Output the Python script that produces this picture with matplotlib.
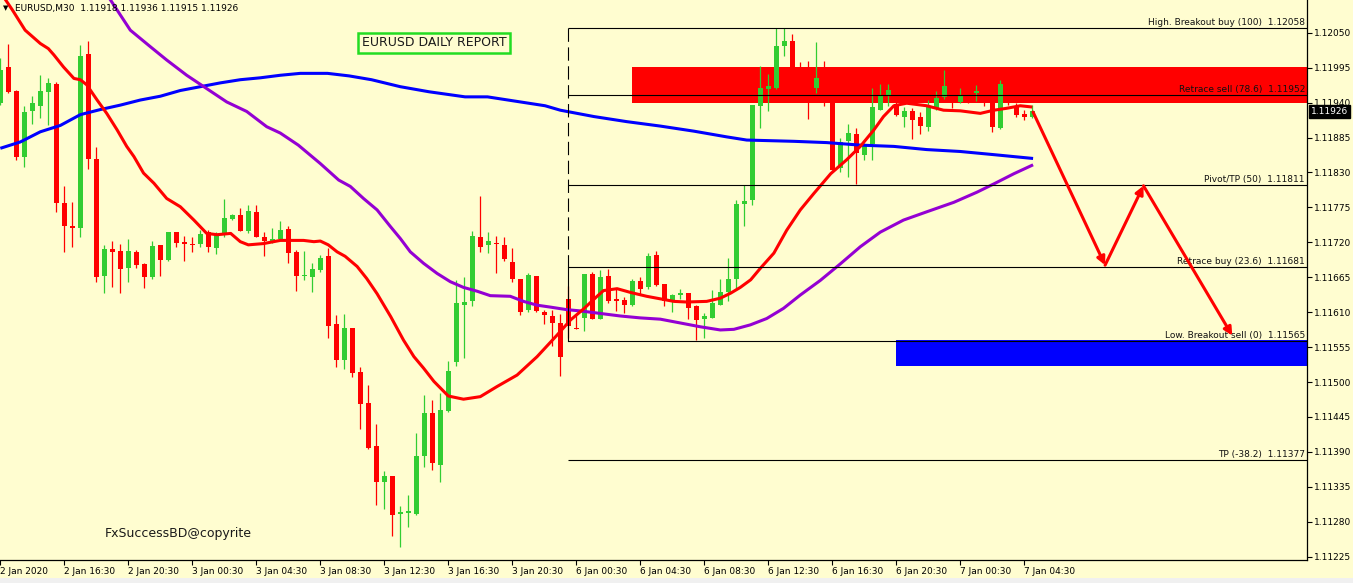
import numpy as np
import matplotlib
matplotlib.use("Agg")
import matplotlib.pyplot as plt
from matplotlib.patches import Rectangle
from matplotlib.transforms import blended_transform_factory

# EURUSD M30 candles (open, high, low, close), 2 Jan 12:30 .. 7 Jan 05:00
opens = [1.11940, 1.11996, 1.11958, 1.11855, 1.11926, 1.11935, 1.11956, 1.11969, 1.11782, 1.11745,
         1.11743, 1.12017, 1.11851, 1.11667, 1.11710, 1.11706, 1.11679, 1.11705, 1.11686, 1.11666,
         1.11716, 1.11692, 1.11736, 1.11721, 1.11717, 1.11717, 1.11736, 1.11711, 1.11733, 1.11757,
         1.11763, 1.11738, 1.11767, 1.11729, 1.11721, 1.11725, 1.11741, 1.11705, 1.11667, 1.11665,
         1.11676, 1.11698, 1.11591, 1.11535, 1.11585, 1.11516, 1.11467, 1.11399, 1.11342, 1.11352,
         1.11293, 1.11294, 1.11293, 1.11383, 1.11452, 1.11370, 1.11454, 1.11532, 1.11622, 1.11627,
         1.11728, 1.11715, 1.11719, 1.11716, 1.11689, 1.11663, 1.11613, 1.11667, 1.11610, 1.11604,
         1.11593, 1.11631, 1.11585, 1.11601, 1.11670, 1.11600, 1.11667, 1.11630, 1.11629, 1.11621,
         1.11659, 1.11649, 1.11700, 1.11654, 1.11627, 1.11637, 1.11640, 1.11619, 1.11599, 1.11601,
         1.11622, 1.11641, 1.11662, 1.11780, 1.11787, 1.11934, 1.11961, 1.11963, 1.12029, 1.12037,
         1.11988, 1.11976, 1.11963, 1.11976, 1.11949, 1.11837, 1.11880, 1.11891, 1.11857, 1.11875,
         1.11929, 1.11952, 1.11938, 1.11918, 1.11926, 1.11918, 1.11902, 1.11932, 1.11948, 1.11960,
         1.11941, 1.11952, 1.11955, 1.11957, 1.11939, 1.11900, 1.11960, 1.11935, 1.11922, 1.11918]
highs = [1.12010, 1.12032, 1.11960, 1.11934, 1.11950, 1.11983, 1.11978, 1.11972, 1.11809, 1.11784,
         1.12031, 1.12037, 1.11870, 1.11716, 1.11722, 1.11718, 1.11725, 1.11708, 1.11688, 1.11722,
         1.11716, 1.11736, 1.11736, 1.11730, 1.11729, 1.11739, 1.11739, 1.11737, 1.11788, 1.11765,
         1.11774, 1.11778, 1.11779, 1.11737, 1.11742, 1.11754, 1.11746, 1.11708, 1.11707, 1.11688,
         1.11700, 1.11711, 1.11606, 1.11607, 1.11585, 1.11523, 1.11495, 1.11434, 1.11360, 1.11352,
         1.11305, 1.11322, 1.11420, 1.11480, 1.11472, 1.11482, 1.11533, 1.11661, 1.11666, 1.11738,
         1.11793, 1.11736, 1.11730, 1.11728, 1.11711, 1.11663, 1.11671, 1.11667, 1.11613, 1.11613,
         1.11607, 1.11651, 1.11606, 1.11670, 1.11673, 1.11676, 1.11678, 1.11648, 1.11634, 1.11662,
         1.11665, 1.11703, 1.11706, 1.11654, 1.11638, 1.11646, 1.11640, 1.11621, 1.11609, 1.11645,
         1.11662, 1.11695, 1.11787, 1.11810, 1.11936, 1.11998, 1.11985, 1.12058, 1.12057, 1.12048,
         1.12004, 1.12006, 1.12035, 1.12006, 1.11960, 1.11885, 1.11906, 1.11900, 1.11876, 1.11963,
         1.11969, 1.11969, 1.11952, 1.11933, 1.11932, 1.11925, 1.11944, 1.11958, 1.11991, 1.11968,
         1.11963, 1.11960, 1.11968, 1.11963, 1.11944, 1.11976, 1.11968, 1.11939, 1.11928, 1.11936]
lows = [1.11936, 1.11955, 1.11849, 1.11838, 1.11907, 1.11916, 1.11904, 1.11767, 1.11705, 1.11712,
        1.11729, 1.11835, 1.11658, 1.11640, 1.11650, 1.11640, 1.11658, 1.11680, 1.11648, 1.11662,
        1.11667, 1.11690, 1.11712, 1.11690, 1.11704, 1.11713, 1.11705, 1.11701, 1.11729, 1.11755,
        1.11738, 1.11734, 1.11729, 1.11699, 1.11719, 1.11724, 1.11688, 1.11644, 1.11661, 1.11642,
        1.11673, 1.11569, 1.11524, 1.11521, 1.11508, 1.11426, 1.11395, 1.11306, 1.11300, 1.11258,
        1.11241, 1.11272, 1.11290, 1.11367, 1.11362, 1.11343, 1.11453, 1.11525, 1.11538, 1.11619,
        1.11705, 1.11703, 1.11672, 1.11690, 1.11658, 1.11605, 1.11611, 1.11610, 1.11591, 1.11557,
        1.11510, 1.11570, 1.11583, 1.11581, 1.11599, 1.11600, 1.11624, 1.11612, 1.11608, 1.11620,
        1.11639, 1.11646, 1.11651, 1.11620, 1.11611, 1.11630, 1.11599, 1.11566, 1.11569, 1.11601,
        1.11621, 1.11628, 1.11645, 1.11746, 1.11779, 1.11900, 1.11927, 1.11961, 1.12014, 1.11983,
        1.11968, 1.11914, 1.11955, 1.11934, 1.11834, 1.11830, 1.11823, 1.11812, 1.11849, 1.11850,
        1.11929, 1.11934, 1.11919, 1.11902, 1.11882, 1.11891, 1.11896, 1.11928, 1.11945, 1.11931,
        1.11939, 1.11939, 1.11943, 1.11935, 1.11894, 1.11898, 1.11936, 1.11917, 1.11913, 1.11915]
closes = [1.11991, 1.11957, 1.11855, 1.11925, 1.11939, 1.11958, 1.11971, 1.11782, 1.11745, 1.11743,
          1.12013, 1.11851, 1.11666, 1.11710, 1.11704, 1.11678, 1.11706, 1.11685, 1.11666, 1.11714,
          1.11692, 1.11736, 1.11719, 1.11717, 1.11715, 1.11733, 1.11712, 1.11733, 1.11759, 1.11763,
          1.11738, 1.11769, 1.11729, 1.11722, 1.11725, 1.11739, 1.11703, 1.11667, 1.11668, 1.11678,
          1.11696, 1.11588, 1.11534, 1.11585, 1.11515, 1.11466, 1.11396, 1.11343, 1.11352, 1.11290,
          1.11295, 1.11297, 1.11383, 1.11452, 1.11373, 1.11456, 1.11517, 1.11625, 1.11626, 1.11730,
          1.11713, 1.11722, 1.11717, 1.11694, 1.11662, 1.11610, 1.11669, 1.11612, 1.11606, 1.11593,
          1.11540, 1.11588, 1.11584, 1.11670, 1.11599, 1.11665, 1.11628, 1.11628, 1.11621, 1.11659,
          1.11647, 1.11698, 1.11653, 1.11627, 1.11637, 1.11640, 1.11617, 1.11598, 1.11604, 1.11624,
          1.11642, 1.11662, 1.11780, 1.11785, 1.11936, 1.11963, 1.11966, 1.12029, 1.12037, 1.11988,
          1.11976, 1.11952, 1.11978, 1.11950, 1.11834, 1.11878, 1.11892, 1.11860, 1.11872, 1.11933,
          1.11952, 1.11960, 1.11920, 1.11926, 1.11913, 1.11903, 1.11933, 1.11947, 1.11966, 1.11944,
          1.11952, 1.11944, 1.11959, 1.11944, 1.11902, 1.11969, 1.11944, 1.11920, 1.11918, 1.11926]

time_labels = ["2 Jan 2020", "2 Jan 16:30", "2 Jan 20:30", "3 Jan 00:30", "3 Jan 04:30",
               "3 Jan 08:30", "3 Jan 12:30", "3 Jan 16:30", "3 Jan 20:30", "6 Jan 00:30",
               "6 Jan 04:30", "6 Jan 08:30", "6 Jan 12:30", "6 Jan 16:30", "6 Jan 20:30",
               "7 Jan 00:30", "7 Jan 04:30"]

# moving averages: (bar, price)
fast_ma = [(0.0, 1.12114), (1.5, 1.12086), (3.1, 1.12054), (5.0, 1.12033), (6.0, 1.12025),
           (6.7, 1.12015), (7.9, 1.11996), (9.2, 1.11978), (10.0, 1.11976), (10.8, 1.11968),
           (12.1, 1.11944), (13.3, 1.11923), (14.6, 1.11897), (15.8, 1.11871), (16.7, 1.11855),
           (17.9, 1.11829), (19.2, 1.11813), (20.8, 1.11789), (22.5, 1.11776), (24.2, 1.11755),
           (25.8, 1.11734), (27.1, 1.11732), (28.8, 1.11734), (30.0, 1.11721), (31.0, 1.11716),
           (32.9, 1.11718), (35.0, 1.11723), (37.9, 1.11723), (39.2, 1.11721), (40.0, 1.11722),
           (41.0, 1.11716), (42.1, 1.11705), (43.1, 1.11698), (44.6, 1.11682), (45.8, 1.11663),
           (47.1, 1.11639), (48.8, 1.11603), (50.4, 1.11566), (51.7, 1.11540), (52.9, 1.11522),
           (54.2, 1.11501), (56.0, 1.11478), (57.9, 1.11473), (60.0, 1.11477), (62.1, 1.11493),
           (64.6, 1.11511), (67.1, 1.11540), (69.6, 1.11574), (71.3, 1.11598), (72.9, 1.11615),
           (74.6, 1.11635), (75.4, 1.11644), (77.1, 1.11647), (78.8, 1.11641), (80.8, 1.11635),
           (82.5, 1.11631), (84.2, 1.11627), (85.8, 1.11626), (88.3, 1.11627), (90.0, 1.11632),
           (91.3, 1.11640), (92.5, 1.11649), (93.8, 1.11661), (95.0, 1.11679), (96.7, 1.11703),
           (98.3, 1.11739), (100.0, 1.11771), (101.7, 1.11797), (103.8, 1.11828), (105.8, 1.11850),
           (107.5, 1.11871), (109.2, 1.11897), (110.4, 1.11918), (111.7, 1.11935), (113.3, 1.11939),
           (115.8, 1.11935), (117.9, 1.11928), (120.0, 1.11927), (122.5, 1.11923), (124.2, 1.11928),
           (125.8, 1.11931), (127.5, 1.11935), (129.0, 1.11933)]
mid_ma = [(13.0, 1.12114), (13.75, 1.12102), (16.25, 1.12054), (18.75, 1.12028), (20.8, 1.12007),
          (23.3, 1.11983), (25.8, 1.11962), (28.3, 1.11941), (30.8, 1.11926), (33.3, 1.11902),
          (35.0, 1.11892), (37.25, 1.11873), (40.0, 1.11844), (42.3, 1.11818), (43.75, 1.11808),
          (45.4, 1.11789), (47.1, 1.11771), (48.75, 1.11745), (50.0, 1.11726), (51.25, 1.11705),
          (52.9, 1.11687), (54.6, 1.11671), (56.25, 1.11658), (57.9, 1.11649), (59.6, 1.11643),
          (61.25, 1.11636), (63.75, 1.11635), (65.4, 1.11627), (67.1, 1.11621), (68.75, 1.11618),
          (70.8, 1.11614), (72.5, 1.11612), (75.0, 1.11608), (77.5, 1.11604), (80.0, 1.11601),
          (82.5, 1.11599), (85.0, 1.11593), (87.5, 1.11587), (90.0, 1.11582), (91.7, 1.11583),
          (93.75, 1.11590), (95.8, 1.11600), (97.9, 1.11616), (100.0, 1.11637), (102.5, 1.11660),
          (105.0, 1.11686), (107.5, 1.11713), (110.0, 1.11736), (112.9, 1.11755), (115.8, 1.11768),
          (119.2, 1.11783), (122.1, 1.11799), (124.2, 1.11812), (126.7, 1.11828), (129.1, 1.11842)]
slow_ma = [(0.0, 1.11868), (2.5, 1.11878), (5.0, 1.11894), (7.5, 1.11904), (10.0, 1.11921),
           (12.5, 1.11929), (15.0, 1.11936), (17.5, 1.11944), (20.0, 1.11950), (22.5, 1.11959),
           (25.0, 1.11965), (27.5, 1.11971), (30.0, 1.11976), (32.5, 1.11979), (35.0, 1.11983),
           (37.5, 1.11986), (40.9, 1.11986), (43.6, 1.11982), (46.4, 1.11976), (50.0, 1.11965),
           (53.6, 1.11957), (58.1, 1.11949), (60.9, 1.11949), (64.5, 1.11942), (68.1, 1.11935),
           (70.0, 1.11928), (74.2, 1.11918), (78.3, 1.11910), (82.5, 1.11903), (86.7, 1.11895),
           (90.8, 1.11886), (93.3, 1.11881), (99.2, 1.11879), (103.3, 1.11877), (107.5, 1.11873),
           (111.7, 1.11871), (115.8, 1.11866), (120.0, 1.11863), (124.2, 1.11858), (129.1, 1.11852)]

fib_levels = [1.12058, 1.11952, 1.11811, 1.11681, 1.11565, 1.11377]
fib_names = ["High. Breakout buy (100)", "Retrace sell (78.6)", "Pivot/TP (50)",
             "Retrace buy (23.6)", "Low. Breakout sell (0)", "TP (-38.2)"]
fib_start = 71

sell_zone = (1.11939, 1.11996)
buy_zone = (1.11526, 1.11566)

path_x = [129.1, 138.1, 142.9, 154.0]
path_y = [1.11925, 1.11684, 1.11809, 1.11573]

bg = "#FFFDD0"
green = "#32CD32"
red = "#FF0000"

fig = plt.figure(figsize=(13.53, 5.83), dpi=100, facecolor=bg)
ax = fig.add_axes([0, 0.0403, 0.966, 0.9597])
ax.set_facecolor(bg)
x_left, x_right = -0.04, 163.34
ax.set_xlim(x_left, x_right)
ax.set_ylim(1.112206, 1.121015)

fig.patches.append(Rectangle((0, 0), 1, 5 / 583, transform=fig.transFigure,
                             facecolor="#F0F0F0", edgecolor="none"))

# zones
ax.add_patch(Rectangle((79, sell_zone[0]), x_right - 79, sell_zone[1] - sell_zone[0],
                       facecolor=red, edgecolor="none", zorder=1))
ax.add_patch(Rectangle((112, buy_zone[0]), x_right - 112, buy_zone[1] - buy_zone[0],
                       facecolor="#0000FF", edgecolor="none", zorder=1))

# candles
o = np.array(opens); h = np.array(highs); l = np.array(lows); c = np.array(closes)
xs = np.arange(len(o))
cols = np.where(c >= o, green, red)
ax.vlines(xs, l, h, colors=cols, lw=0.9, zorder=2)
body_lo = np.minimum(o, c)
body_h = np.maximum(np.abs(c - o), 0.000013)
ax.bar(xs, body_h, bottom=body_lo, width=0.62, color=cols, linewidth=0, zorder=3)

# moving averages
for pts, col in [(slow_ma, "#0000FF"), (mid_ma, "#9400D3"), (fast_ma, red)]:
    mx, my = zip(*pts)
    ax.plot(mx, my, color=col, lw=2.2, zorder=4, solid_capstyle="butt")

# fibonacci
ax.hlines(fib_levels, fib_start, x_right, colors="black", lw=0.8, zorder=5)
ax.plot([fib_start, fib_start], [fib_levels[0], fib_levels[3]], color="black", lw=0.8,
        linestyle=(0, (12, 5)), zorder=5)
ax.plot([fib_start, fib_start], [fib_levels[3], fib_levels[4]], color="black", lw=0.8, zorder=5)
for lev, name in zip(fib_levels, fib_names):
    ax.text(x_right - 0.25, lev + 0.000012, f"{name}  {lev:.5f}", ha="right", va="bottom",
            fontsize=6.5, color="#111111", zorder=6)

# projected path
for i in range(len(path_x) - 1):
    ax.annotate("", xy=(path_x[i + 1], path_y[i + 1]), xytext=(path_x[i], path_y[i]),
                arrowprops=dict(arrowstyle="-|>", color=red, lw=2.2, mutation_scale=12,
                                shrinkA=0, shrinkB=0), zorder=6)

# axes styling
for s in ["top", "left"]:
    ax.spines[s].set_visible(False)
for s in ["right", "bottom"]:
    ax.spines[s].set_linewidth(0.9)
ax.yaxis.tick_right()
yt = [1.11225 + 0.00055 * i for i in range(16)]
ax.set_yticks(yt)
ax.set_yticklabels([f"{v:.5f}" for v in yt])
ax.set_xticks(np.arange(0, 8 * len(time_labels), 8))
ax.set_xticklabels(time_labels)
for lab in ax.get_xticklabels():
    lab.set_horizontalalignment("left")
ax.tick_params(axis="y", direction="out", length=3.5, width=0.8, labelsize=6.5, pad=1.5)
ax.tick_params(axis="x", direction="out", length=3.5, width=0.8, labelsize=6.5, pad=2)

# current price tag
tr = blended_transform_factory(ax.transAxes, ax.transData)
ax.text(1.003, closes[-1], f"{closes[-1]:.5f}", transform=tr, ha="left", va="center",
        fontsize=6.5, color="white", zorder=10, clip_on=False,
        bbox=dict(boxstyle="square,pad=0.2", facecolor="black", edgecolor="black"))

# header and annotations
fig.text(3 / 1353, 1 - 8 / 583, "\u25bc", fontsize=5, va="center", color="black")
fig.text(15 / 1353, 1 - 8 / 583,
         f"EURUSD,M30  {opens[-1]:.5f} {highs[-1]:.5f} {lows[-1]:.5f} {closes[-1]:.5f}",
         fontsize=6.5, va="center", color="black")
fig.text(434 / 1353, 1 - 43 / 583, "EURUSD DAILY REPORT", fontsize=9, ha="center", va="center",
         color="#1a1a1a",
         bbox=dict(boxstyle="square,pad=0.3", facecolor=bg, edgecolor="#22DD22", lw=1.8))
fig.text(105 / 1353, 1 - 533 / 583, "FxSuccessBD@copyrite", fontsize=9, va="center",
         color="#1a1a1a")

fig.savefig("out.png", dpi=100, facecolor=bg)
